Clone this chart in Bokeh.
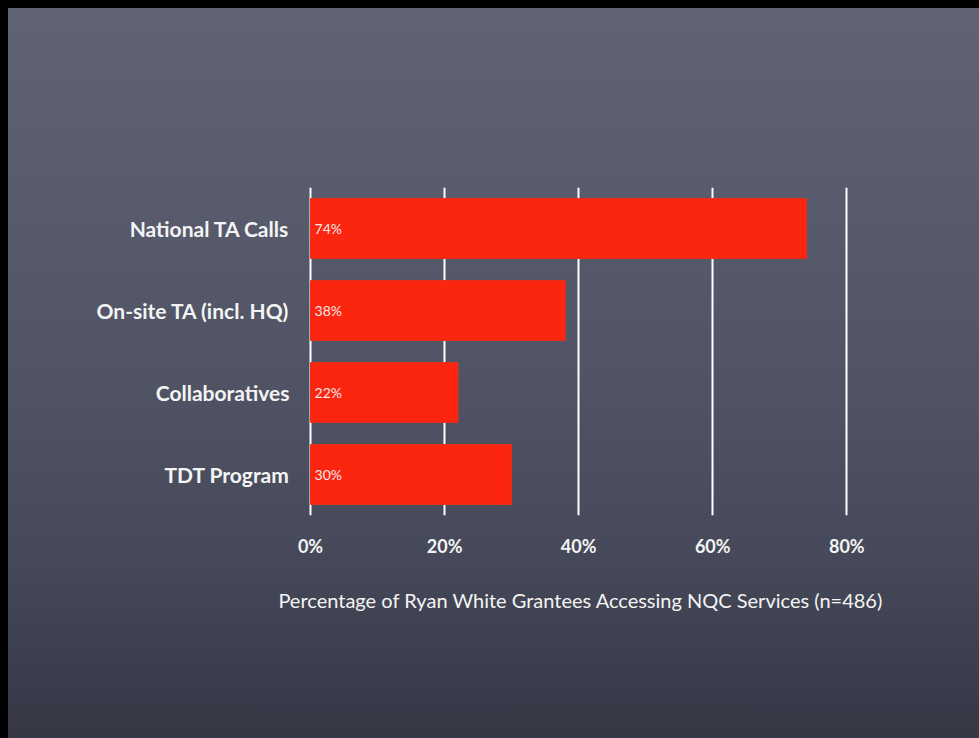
from bokeh.plotting import figure
from bokeh.models import Range1d, FactorRange, FixedTicker, PrintfTickFormatter, ColumnDataSource
from bokeh.core.properties import value
from bokeh.embed import file_html
from bokeh.resources import INLINE

categories = ["National TA Calls", "On-site TA (incl. HQ)", "Collaboratives", "TDT Program"]
percentages = [74, 38, 22, 30]
bar_labels = ["74%", "38%", "22%", "30%"]
x_ticks = [0, 20, 40, 60, 80]
x_title = "Percentage of Ryan White Grantees Accessing NQC Services (n=486)"

FONT = "Lato"
W, H = 971, 730

p = figure(width=W, height=H, output_backend="svg", toolbar_location=None,
           x_range=Range1d(-0.3, 81), y_range=FactorRange(factors=list(reversed(categories))),
           min_border_left=300, min_border_right=126, min_border_top=179, min_border_bottom=223)

p.background_fill_color = None
p.border_fill_color = None
p.outline_line_color = None
p.styles = {"background": "linear-gradient(to bottom, #5f6373 0%, #565a6b 30%, #4f5364 52%, #464959 75%, #353745 100%)"}

src = ColumnDataSource(dict(cat=categories, pct=percentages, lab=bar_labels))
p.hbar(y="cat", right="pct", left=0, height=0.73, source=src,
       fill_color="#fb2510", line_color="#e8301a", line_width=1)
p.text(x=0, y="cat", text="lab", source=src, x_offset=4, text_baseline="middle",
       text_align="left", text_color="#f3eaea", text_font_size="14px",
       text_font=value(FONT))

p.xgrid.ticker = FixedTicker(ticks=x_ticks)
p.xgrid.grid_line_color = "white"
p.xgrid.grid_line_width = 2
p.ygrid.grid_line_color = None

xa = p.xaxis[0]
xa.ticker = FixedTicker(ticks=x_ticks)
xa.formatter = PrintfTickFormatter(format="%d%%")
xa.axis_line_color = None
xa.major_tick_line_color = None
xa.minor_tick_line_color = None
xa.major_label_standoff = 13
xa.major_label_text_font = FONT
xa.major_label_text_font_style = "bold"
xa.major_label_text_font_size = "18px"
xa.major_label_text_color = "#f4f4f4"
xa.axis_label = x_title
xa.axis_label_standoff = 28
xa.axis_label_text_font = FONT
xa.axis_label_text_font_style = "normal"
xa.axis_label_text_font_size = "20px"
xa.axis_label_text_color = "#f4f4f4"

ya = p.yaxis[0]
ya.axis_line_color = None
ya.major_tick_line_color = None
ya.minor_tick_line_color = None
ya.major_label_standoff = 13
ya.major_label_text_font = FONT
ya.major_label_text_font_style = "bold"
ya.major_label_text_font_size = "21px"
ya.major_label_text_color = "#f4f4f4"

html = file_html(p, INLINE)
html = html.replace("</head>", "<style>html,body{background:#000 !important;} body{padding:8px 0 0 8px !important;}</style></head>", 1)
open("out.html", "w").write(html)
